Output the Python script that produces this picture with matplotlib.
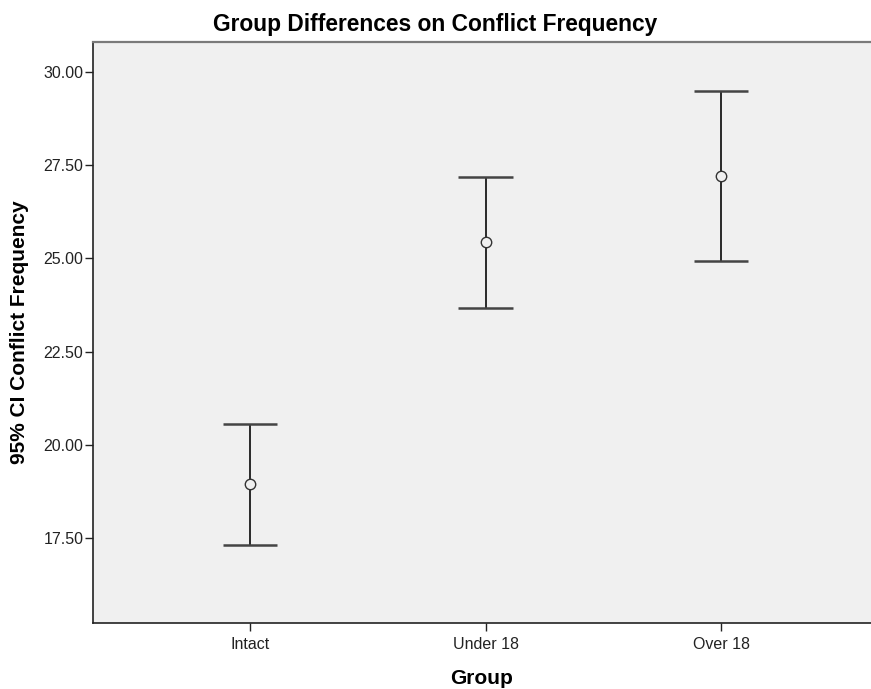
import matplotlib
matplotlib.use("Agg")
import matplotlib.pyplot as plt
from matplotlib.ticker import FormatStrFormatter

plt.rcParams['font.family'] = ['Liberation Sans', 'DejaVu Sans']

groups = ["Intact", "Under 18", "Over 18"]
means = [18.95, 25.43, 27.21]
ci_low = [17.33, 23.67, 24.93]
ci_high = [20.56, 27.18, 29.48]
yticks = [17.5, 20.0, 22.5, 25.0, 27.5, 30.0]

fig = plt.figure(figsize=(8.71, 6.89), dpi=100)
ax = fig.add_axes([0.1068, 0.0958, 0.8932, 0.8432])
ax.set_facecolor("#f0f0f0")

xs = list(range(1, len(groups) + 1))

# vertical CI lines
ax.vlines(xs, ci_low, ci_high, color="#1a1a1a", lw=1.3, zorder=2)
# caps
ax.hlines(ci_low + ci_high, [x - 0.115 for x in xs] * 2, [x + 0.115 for x in xs] * 2,
          color="#444444", lw=1.8, zorder=2)
ax.plot(xs, means, linestyle="none", marker="o", markersize=7.5,
        markerfacecolor="#f0f0f0", markeredgecolor="#333333", markeredgewidth=1.0, zorder=3)

ax.set_xlim(0.333, 3.637)
ax.set_ylim(15.23, 30.80)
ax.set_xticks(xs)
ax.set_xticklabels(groups)
ax.set_yticks(yticks)
ax.yaxis.set_major_formatter(FormatStrFormatter("%.2f"))
ax.tick_params(axis="both", labelsize=11.5, colors="#222222", length=6, width=1.0)
ax.tick_params(axis="x", pad=4)
ax.tick_params(axis="y", pad=1)

for side in ["left", "bottom"]:
    ax.spines[side].set_color("#222222")
    ax.spines[side].set_linewidth(1.2)
ax.spines["top"].set_color("#7a7a7a")
ax.spines["top"].set_linewidth(1.6)
ax.spines["right"].set_visible(False)

ax.set_xlabel("Group", fontsize=15, fontweight="bold", labelpad=12)
ax.set_ylabel("95% CI Conflict Frequency", fontsize=15, fontweight="bold")
ax.yaxis.set_label_coords(-0.094, 0.5)
ax.yaxis.label.set_va("center")
fig.text(0.5, 1 - 24 / 689, "Group Differences on Conflict Frequency",
         ha="center", va="center", fontsize=16.4, fontweight="bold")

fig.savefig("out.png", dpi=100)
